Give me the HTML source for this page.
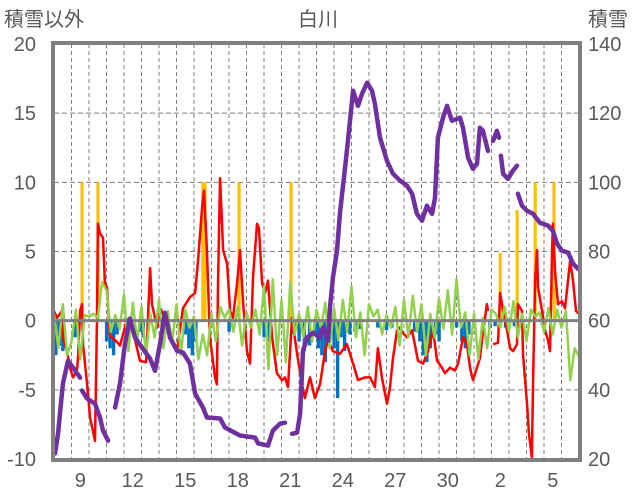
<!DOCTYPE html>
<html><head><meta charset="utf-8">
<style>
html,body{margin:0;padding:0;background:#fff;}
svg{display:block;font-family:"Liberation Sans","Noto Sans CJK JP",sans-serif;}
</style></head>
<body>
<svg id="chart" width="636" height="501" viewBox="0 0 636 501" xmlns="http://www.w3.org/2000/svg">
<text x="318" y="26" font-size="20" fill="#595959" text-anchor="middle">白川</text>
<text x="4" y="26" font-size="20" fill="#595959">積雪以外</text>
<text x="588" y="26" font-size="20" fill="#595959">積雪</text>
<g id="grid"></g>
<g id="bars"></g>
<g id="lines"></g>
<g id="axes"></g>
</svg>
<script>
const xTickLabels = ["9","12","15","18","21","24","27","30","2","5"];
const xTickDays = [1.5,4.5,7.5,10.5,13.5,16.5,19.5,22.5,25.5,28.5];
const leftTicks = [20,15,10,5,0,-5,-10];
const rightTicks = [140,120,100,80,60,40,20];

const snowT = [0.06,0.23,0.51,0.8,1.09,1.49,null,1.6,1.89,2.34,2.63,2.8,3.09,null,3.49,3.77,4.06,4.34,4.63,5.03,5.49,5.77,6.06,6.34,6.63,7.03,7.37,7.77,8.06,8.51,8.74,9.49,9.77,10.63,11.49,11.66,12.23,12.51,12.91,13.2,null,13.6,13.89,14.06,14.23,14.46,14.8,15.2,15.37,15.66,15.77,15.94,16.17,16.34,16.74,17.09,17.37,17.6,17.89,18.17,18.34,18.63,19.03,19.37,19.77,20.17,20.46,20.74,21.03,21.31,21.6,21.77,21.94,22.23,22.46,22.74,23.2,23.37,23.66,23.94,24.17,24.34,24.51,24.8,null,25.09,25.31,25.43,null,25.54,25.66,25.94,26.23,26.46,null,26.51,26.74,27.03,27.37,27.77,28.23,28.51,28.74,29.03,29.37,29.66,29.94];
const snowV = [21.6,27.3,41.8,48.4,46.4,43.5,null,39.8,37.5,36.0,32.0,28.2,25.3,null,34.9,41.8,53.4,60.6,55.1,52.2,49.0,45.5,53.4,62.3,55.1,51.3,50.8,47.6,38.9,34.9,32.0,31.7,29.1,26.8,26.2,24.5,23.9,28.2,30.2,30.5,null,27.3,27.6,33.1,51.3,55.1,56.5,55.1,58.0,54.2,63.8,72.4,80.2,90.9,109.1,126.5,122.1,125.6,128.8,126.5,122.7,112.9,106.2,102.5,100.5,99.0,96.7,90.9,88.9,93.2,90.9,95.5,112.9,118.7,122.1,117.8,118.7,115.8,107.1,103.9,105.4,115.8,114.9,109.1,null,112.0,114.9,112.9,null,107.7,102.5,101.0,103.4,104.8,null,96.7,93.2,91.8,90.9,88.3,87.5,86.0,82.3,80.2,79.7,76.5,75.0];

const redT = [0,0.17,0.46,0.51,0.74,0.91,1.09,1.31,1.37,1.49,1.6,1.66,1.89,2.06,2.23,2.34,2.46,2.51,2.63,2.8,2.91,3.03,3.2,3.49,3.77,4.17,4.51,4.91,5.26,5.49,5.6,5.89,6.06,6.34,6.63,7.03,7.37,7.77,8.06,8.23,8.46,8.57,8.74,8.91,9.2,9.31,9.37,9.49,9.66,9.89,10.06,10.23,10.46,10.63,10.8,11.03,11.2,11.37,11.6,11.71,11.89,12.06,12.23,12.46,12.74,13.03,13.2,13.37,13.6,13.89,14.17,14.34,14.63,14.91,15.2,15.49,15.66,15.94,16.34,16.74,17.09,17.37,17.77,18.06,18.34,18.51,18.74,19.03,19.2,19.37,19.6,19.77,19.94,20.17,20.46,20.8,21.09,21.37,21.66,21.89,22.17,22.34,22.63,22.91,23.09,23.37,23.6,23.77,23.94,24.17,24.34,24.51,24.74,24.8,null,25.09,25.37,25.49,25.66,25.89,26.06,26.23,26.46,26.51,26.74,26.8,27.03,27.14,27.31,27.37,27.49,27.6,27.66,27.89,28.06,28.23,28.34,28.46,28.51,28.63,28.8,29.03,29.2,29.37,29.49,29.66,29.83,30];
const redV = [0.7,0.2,0.7,-1.2,-2.2,-3.4,-4.1,-3.6,-2.7,0.7,1.2,-1.7,-4.6,-7.0,-8.0,-8.7,0.2,7.0,6.3,6.0,2.7,2.4,-1.1,-1.4,-1.8,0.1,-0.7,-2.9,-3.0,3.8,1.2,-0.5,0.9,0.2,-1.2,-2.2,0.9,1.7,2.0,4.3,8.2,9.4,5.1,-1.2,-4.1,-4.6,2.7,10.3,5.1,4.1,0.7,0.2,2.7,5.1,1.4,-2.2,-3.1,3.1,7.0,6.7,2.7,2.0,2.9,-1.2,-3.8,-4.3,-4.1,-4.8,0.2,-2.4,-4.6,-5.6,-4.1,-5.6,-4.6,-2.2,-1.4,-2.2,-2.4,-1.7,-3.1,-4.3,-4.1,-4.1,-4.8,-2.0,-4.1,-6.0,-4.8,-2.7,-0.7,-0.5,-0.9,-1.2,-0.7,-2.9,-3.1,-2.2,-0.7,-2.9,-3.4,-3.8,-3.4,-3.6,-3.1,-1.2,-1.7,-3.4,-4.3,-3.4,-2.7,-0.9,1.2,0.7,null,-1.7,-1.6,2.0,0.7,-0.7,-2.0,-2.2,-1.7,1.2,0.7,-2.4,-6.0,-8.2,-9.9,-4.6,2.9,5.1,2.4,0.7,-0.7,-1.4,-2.2,4.8,7.0,3.6,1.2,1.4,0.9,2.9,4.3,2.9,0.7,0.5];

const greenV = [0.5,-2,1.2,-2.5,-1.5,0.8,-2.8,0.4,0.3,0.5,0.2,2.8,2.2,-0.8,0.4,-0.6,1.9,-2.2,1.3,-1.5,1.0,-2.5,0.5,-1.2,1.5,-2.0,0.7,-1.6,1.2,-2.5,0.8,-0.5,0.3,-2.8,-1.0,-2.5,0.5,-1.5,1.0,0.2,0.8,-0.8,1.0,-1.8,0.6,-0.5,0.8,-1.0,2.5,-3.5,3.0,-2.5,1.5,-3.0,2.8,-1.0,0.5,-1.2,1.0,-1.5,0.8,-0.5,1.3,-2.0,0.9,-1.4,1.5,-0.8,2.5,-1.2,0.6,-2.5,1.2,0.3,0.8,-1.0,0.4,-0.5,1.0,-1.8,1.5,-1.2,1.8,-0.8,1.2,-2.5,0.5,-1.2,1.6,-0.6,2.2,-1.0,3.0,-0.5,0.6,-2.5,0.5,-2.8,0.2,-2.0,0.8,0.5,-0.5,1.0,-0.8,1.4,-1.2,0.5,-1.5,0.8,0.3,0.6,-0.8,0.9,-1.0,0.8,-0.5,0.7,-4.3,-2.0,-2.6];
const greenStep = 0.25;

const orangeT = [1.6,2.51,8.5,8.62,10.57,13.54,25.49,26.46,27.49,28.57];
const orangeV = [10,10,10,10,10,10,4.9,8,10,10];

const blueT = [0.1,0.3,0.5,1.2,3.0,3.2,3.4,3.6,4.9,5.1,7.5,7.7,7.9,8.1,10.0,12.0,12.3,13.7,14.0,14.3,14.6,14.9,15.1,15.3,15.5,15.7,16.0,16.2,16.4,16.6,16.9,17.2,17.5,18.5,19.0,19.3,20.6,20.9,21.1,21.3,21.5,21.8,22.0,23.0,23.3,23.5,23.7,24.9,25.2,25.8,26.3,27.9];
const blueV = [-2.5,-1.8,-2.2,-1.2,-1.5,-2.0,-2.5,-1.0,-0.8,-1.2,-1.0,-2.0,-2.5,-1.5,-0.8,-1.2,-1.5,-1.0,-1.5,-2.2,-1.8,-1.0,-2.0,-2.5,-3.0,-1.5,-2.0,-5.6,-1.2,-2.2,-1.0,-0.8,-0.6,-0.5,-0.7,-0.5,-0.8,-1.5,-2.5,-3.0,-2.0,-1.0,-1.5,-0.5,-1.5,-2.0,-1.0,-0.5,-0.4,-0.5,-0.4,-0.3];

const X0=54, X1=579, Y0=44, Y1=459, DAYS=30;
function xs(t){return X0+(X1-X0)*t/DAYS;}
function yl(v){return Y0+(Y1-Y0)*(20-v)/30;}
function yr(v){return Y0+(Y1-Y0)*(140-v)/120;}
const NS="http://www.w3.org/2000/svg";
function mk(tag,attrs,parent){const e=document.createElementNS(NS,tag);for(const k in attrs)e.setAttribute(k,attrs[k]);parent.appendChild(e);return e;}
const grid=document.getElementById('grid'),bars=document.getElementById('bars'),lines=document.getElementById('lines'),axes=document.getElementById('axes');

for(let d=1;d<DAYS;d++){
  const l=mk('line',{x1:xs(d),x2:xs(d),y1:Y0,y2:Y1,stroke:'#7f7f7f','stroke-width':1,'stroke-dasharray':'4,3'},grid);
  
  
}
leftTicks.forEach(v=>{
  if(v!==20&&v!==-10&&v!==0){
    const l=mk('line',{x1:X0,x2:X1,y1:yl(v),y2:yl(v),stroke:'#7f7f7f','stroke-width':1,'stroke-dasharray':'5,3'},grid);
    
    
  }
  const t=mk('text',{x:36,y:yl(v)+7,'font-size':20,fill:'#595959','text-anchor':'end'},axes);
  t.textContent=v;
  
  
});
rightTicks.forEach(v=>{
  const t=mk('text',{x:588,y:yr(v)+7,'font-size':20,fill:'#595959'},axes);
  t.textContent=v;
  
  
});
xTickLabels.forEach((s,i)=>{
  const t=mk('text',{x:xs(xTickDays[i]),y:487,'font-size':20,fill:'#595959','text-anchor':'middle'},axes);
  t.textContent=s;
  
  
});

orangeT.forEach((t,i)=>{
  const r=mk('rect',{x:xs(t)-1.5,y:yl(orangeV[i]),width:3.2,height:yl(0)-yl(orangeV[i]),fill:'#FFC000'},bars);
  
  
});
blueT.forEach((t,i)=>{
  const r=mk('rect',{x:xs(t)-1.6,y:yl(0),width:3.4,height:yl(blueV[i])-yl(0),fill:'#0070C0'},bars);
  
  
});

function pathFrom(ts,vs,yf){
  let d='',pen=false;
  for(let i=0;i<ts.length;i++){
    if(ts[i]===null||vs[i]===null){pen=false;continue;}
    d+=(pen?'L':'M')+xs(ts[i]).toFixed(1)+','+yf(vs[i]).toFixed(1);pen=true;
  }
  return d;
}
const red=mk('path',{d:pathFrom(redT,redV,yl),fill:'none',stroke:'#FF0000','stroke-width':2.5,'stroke-linejoin':'round'},lines);


const gT=greenV.map((v,i)=>i*greenStep);
const green=mk('path',{d:pathFrom(gT,greenV,yl),fill:'none',stroke:'#92D050','stroke-width':2.5,'stroke-linejoin':'round'},lines);


const zero=mk('line',{x1:X0,x2:X1,y1:yl(0),y2:yl(0),stroke:'#808080','stroke-width':3},lines);


const snow=mk('path',{d:pathFrom(snowT,snowV,yr),fill:'none',stroke:'#7030A0','stroke-width':4.5,'stroke-linejoin':'round','stroke-linecap':'round'},lines);



const frame=mk('rect',{x:X0-1,y:Y0-1,width:X1-X0+2,height:Y1-Y0+2,fill:'none',stroke:'#808080','stroke-width':4},axes);


</script>
</body></html>
